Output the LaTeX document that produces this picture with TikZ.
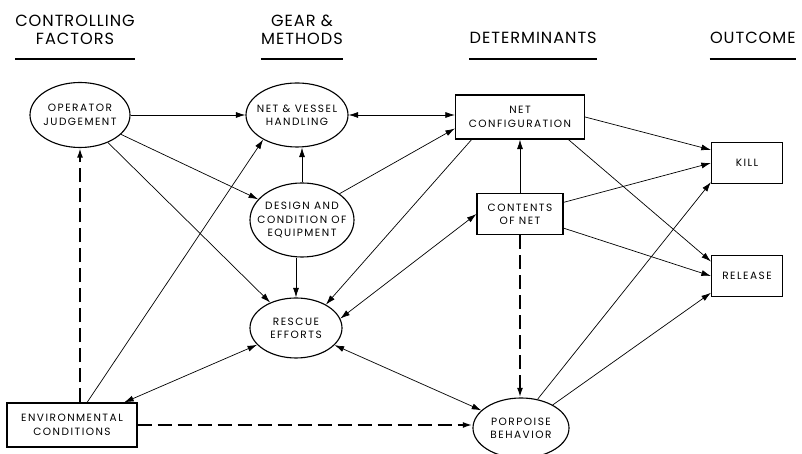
\documentclass[tikz,border=0pt]{standalone}
\usepackage{fontspec}
\setmainfont{Poppins}
\usetikzlibrary{shapes.geometric,arrows.meta}

\begin{document}
\begin{tikzpicture}[
  >={Latex[length=2.4mm,width=1.5mm]},
  every node/.style={font=\fontsize{7.5}{9.5}\selectfont\addfontfeature{LetterSpace=14}, align=center},
  oval/.style={draw, line width=0.8pt, ellipse, inner sep=-0.3cm},
  box/.style={draw, line width=0.8pt, rectangle, inner sep=0pt},
  head/.style={font=\fontsize{11.5}{13}\selectfont\addfontfeature{LetterSpace=6}, inner sep=0pt},
  link/.style={->, line width=0.5pt},
  twoway/.style={<->, line width=0.5pt},
  dashlink/.style={->, line width=1.3pt, dash pattern=on 0.35cm off 0.15cm}]
  \useasboundingbox (0,0) rectangle (20.05,11.35);
  \node[head] (hctl) at (1.875,10.6) {CONTROLLING\\FACTORS};
  \node[head] (hgear) at (7.55,10.6) {GEAR \&\\METHODS};
  \node[head] (hdet) at (13.33,10.41) {DETERMINANTS};
  \node[head] (hout) at (18.82,10.41) {OUTCOME};
  \coordinate (uline) at (0,9.875);
  \foreach \h in {hctl,hgear,hdet,hout}
    \draw[line width=0.8pt] (\h.south west |- uline) -- (\h.south east |- uline);
  \node[oval, minimum width=2.5cm, minimum height=1.625cm] (op) at (2.0,8.475)
    {OPERATOR\\JUDGEMENT};
  \node[oval, minimum width=2.55cm, minimum height=1.6cm] (nv) at (7.425,8.475)
    {NET \& VESSEL\\HANDLING};
  \node[oval, minimum width=2.6cm, minimum height=1.85cm] (des) at (7.55,5.85)
    {DESIGN AND\\CONDITION OF\\EQUIPMENT};
  \node[oval, minimum width=2.3cm, minimum height=1.5cm] (res) at (7.4,3.15)
    {RESCUE\\EFFORTS};
  \node[oval, minimum width=2.4cm, minimum height=1.5cm] (por) at (13.025,0.65)
    {PORPOISE\\BEHAVIOR};
  \node[box, minimum width=3.225cm, minimum height=1.1cm] (cfg) at (13.0,8.425)
    {NET\\CONFIGURATION};
  \node[box, minimum width=2.15cm, minimum height=1.025cm] (cont) at (13.0,6.0)
    {CONTENTS\\OF NET};
  \node[box, minimum width=1.775cm, minimum height=1.025cm] (kill) at (18.675,7.275)
    {KILL};
  \node[box, minimum width=1.775cm, minimum height=1.025cm] (rel) at (18.675,4.45)
    {RELEASE};
  \node[box, minimum width=3.25cm, minimum height=1.1cm] (env) at (1.8,0.725)
    {ENVIRONMENTAL\\CONDITIONS};
  \draw[link] (op) -- (nv);
  \draw[link] (op) -- (des);
  \draw[link] (op) -- (res);
  \draw[dashlink] (env.north -| op.south) -- (op.south);
  \draw[link] (env) -- (nv.216);
  \draw[twoway] (env) -- (res);
  \draw[dashlink] (env.east) -- (env.east -| por.west);
  \draw[link] (des.north) -- (des.north |- nv.south);
  \draw[link] (des.south -| res.north) -- (res.north);
  \draw[link] (des.35) -- (cfg.190);
  \draw[twoway] (nv.east) -- (nv.east -| cfg.west);
  \draw[link] (cfg.205) -- (res.38);
  \draw[twoway] (cont.west) -- (res.12);
  \draw[link] (cont) -- (cfg);
  \draw[link] (cont) -- (kill.west);
  \draw[link] (cont) -- (rel.west);
  \draw[dashlink] (cont.south) -- (cont.south |- por.north);
  \draw[link] (cfg.east) -- (kill.160);
  \draw[link] (cfg.-25) -- (rel.158);
  \draw[twoway] (res) -- (por);
  \draw[link] (por.60) -- (kill.208);
  \draw[link] (por.36) -- (rel.205);
\end{tikzpicture}
\end{document}
